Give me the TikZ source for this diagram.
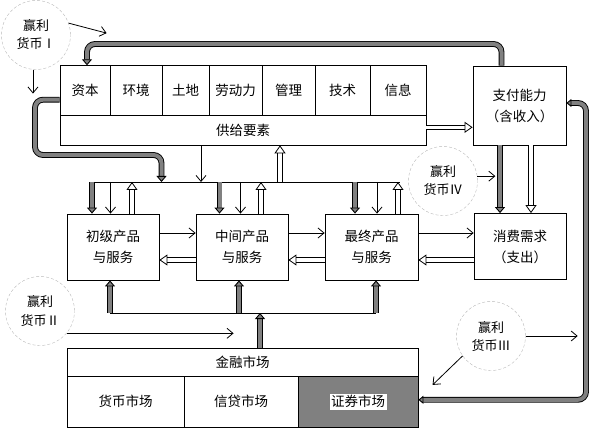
\documentclass[tikz,border=0pt]{standalone}
\usepackage{fontspec}
\setmainfont{Noto Sans CJK SC}
\usetikzlibrary{arrows.meta}
\begin{document}
\begin{tikzpicture}[x=1pt,y=-1pt,font=\fontsize{13.5}{21}\selectfont,
  box/.style={draw,line width=.8pt,inner sep=0pt,align=center},
  ring/.style={circle,draw=gray!55,densely dashed,line width=.4pt,minimum size=69,inner sep=0pt,
    align=center,font=\fontsize{13}{18}\selectfont},
  thin/.style={line width=.8pt,-{Straight Barb[length=6pt,width=10pt]}},
  hollow/.style={double=white,double distance=3.5pt,line width=.8pt,-{Triangle[open,length=8pt,width=11pt]}},
  pipe/.style={double=gray,double distance=4pt,line width=.9pt,-{Triangle[fill=gray,length=6pt,width=10pt]}},
  bipipe/.style={double=gray,double distance=4pt,line width=.9pt,
    {Triangle[fill=gray,length=5pt,width=8pt]}-{Triangle[fill=gray,length=5pt,width=8pt]}}]
  \useasboundingbox (0,0) rectangle (596,430);
  \foreach \xa/\xb/\t [count=\i] in {60/110/资本,110/162/环境,162/209/土地,209/262/劳动力,
                                     262/315/管理,315/370/技术,370/426/信息}
    \node[box,minimum width=\xb-\xa,minimum height=50] (f\i) at ({(\xa+\xb)/2},90.7) {\t};
  \node[box,minimum width=366,minimum height=29.3] (supply) at (243,130.3) {供给要素};
  \node[box,minimum width=93,minimum height=79] (pay) at (519.5,105.5) {支付能力\\（含收入）};
  \node[box,minimum width=92,minimum height=66] (p1) at (113,247) {初级产品\\与服务};
  \node[box,minimum width=92,minimum height=66] (p2) at (242,247) {中间产品\\与服务};
  \node[box,minimum width=93,minimum height=66] (p3) at (371.5,247) {最终产品\\与服务};
  \node[box,minimum width=92,minimum height=66] (cons) at (520,246.5) {消费需求\\（支出）};
  \node[box,minimum width=351,minimum height=28.7] (fin) at (242.5,362.3) {金融市场};
  \node[box,minimum width=117,minimum height=50.3] (m1) at (125.5,401.8) {货币市场};
  \node[box,minimum width=114,minimum height=50.3] (m2) at (241,401.8) {信贷市场};
  \node[box,fill=gray,minimum width=120,minimum height=50.3] (m3) at (358,401.8) {};
  \node[fill=white,inner sep=1.5pt] (m3t) at (m3) {证券市场};
  \node[ring] (r1) at (36,35) {赢利\\货币Ⅰ};
  \node[ring] (r2) at (40,311) {赢利\\货币Ⅱ};
  \node[ring] (r3) at (491,336) {赢利\\货币Ⅲ};
  \node[ring] (r4) at (443,181) {赢利\\货币Ⅳ};
  \coordinate (ub1) at (89,182); \coordinate (ub2) at (400,182);
  \coordinate (lb1) at (110,313); \coordinate (lb2) at (376,313);
  \coordinate (sd) at (201,182); \coordinate (su) at (280,182);
  \coordinate (lpe) at (161.5,182); \coordinate (lbm) at (239,313); \coordinate (lf) at (260,313);
  \draw[line width=.8pt] (ub1) -- (ub2);
  \draw[line width=.8pt] (lb1) -- (lb2);
  \draw[thin] (sd |- supply.south) -- (sd);
  \draw[hollow] (su) -- (su |- supply.south);
  \foreach \p/\g/\b/\h in {p1/92/110.5/132,p2/219.5/240.5/261,p3/355/377/398}{
    \coordinate (g) at (\g,182); \coordinate (b) at (\b,182); \coordinate (h) at (\h,182);
    \draw[pipe] (g) -- (g |- \p.north);
    \draw[thin] (b) -- (b |- \p.north);
    \draw[hollow] (h |- \p.north) -- (h);
  }
  \draw[pipe] (lb1) -- (lb1 |- p1.south);
  \draw[pipe] (lbm) -- (lbm |- p2.south);
  \draw[pipe] (lb2) -- (lb2 |- p3.south);
  \draw[pipe] (lf |- fin.north) -- (lf);
  \draw[thin] ([yshift=14pt]p1.east) -- ([yshift=14pt]p2.west);
  \draw[thin] ([yshift=14pt]p2.east) -- ([yshift=14pt]p3.west);
  \draw[thin] ([yshift=14pt]p3.east) -- ([yshift=14pt]p3.east -| cons.west);
  \draw[hollow] ([yshift=-13pt]p2.west) -- ([yshift=-13pt]p1.east);
  \draw[hollow] ([yshift=-13pt]p3.west) -- ([yshift=-13pt]p2.east);
  \draw[hollow] ([yshift=-13pt]p3.east -| cons.west) -- ([yshift=-13pt]p3.east);
  \draw[hollow] ([yshift=3pt]supply.east) -- ([yshift=3pt]supply.east -| pay.west);
  \draw[pipe] ([xshift=-19.5pt]pay.south) -- ([xshift=-20pt]cons.north);
  \draw[hollow] ([xshift=11.5pt]pay.south) -- ([xshift=11pt]cons.north);
  \draw[pipe,rounded corners=8pt] ([yshift=-9pt]f1.west) -| (35,155) -| (lpe);
  \draw[pipe,rounded corners=8pt] ([xshift=-18pt]pay.north) |- (87,44) -- ([xshift=2pt]f1.north);
  \draw[bipipe,rounded corners=8pt] ([yshift=2pt]m3.east) -| (586,103) -- ([yshift=2.5pt]pay.east);
  \draw[thin] (r1.20) -- ++(38,10);
  \draw[thin] (r1.265) -- ++(0,24);
  \draw[thin] (r2.-40) -- ++(167,0);
  \draw[thin] (r3.east) -- ++(52,0);
  \draw[thin] (r3.215) -- ++(-30,29);
  \draw[thin] (r4.8) -- ++(18,0);
\end{tikzpicture}
\end{document}
